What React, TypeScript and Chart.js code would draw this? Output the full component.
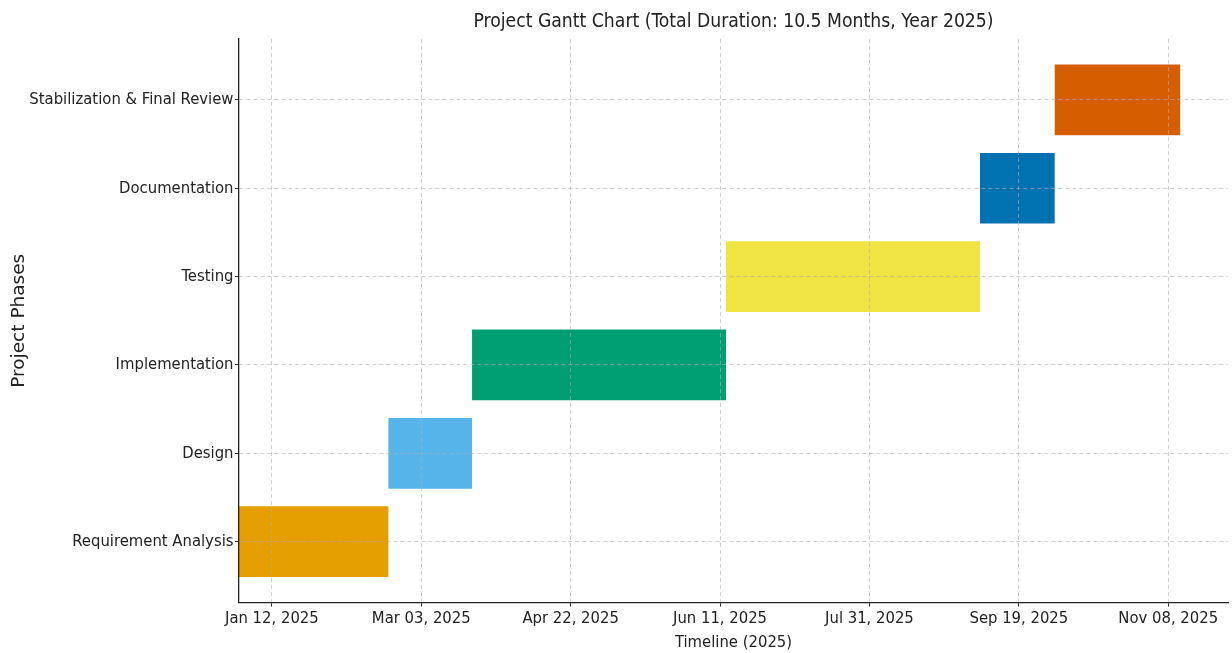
import React, { useEffect, useRef } from "react";
import { Chart, registerables } from "chart.js";

Chart.register(...registerables);

const phases = [
  "Requirement Analysis",
  "Design",
  "Implementation",
  "Testing",
  "Documentation",
  "Stabilization & Final Review",
];
const startDates = ["2025-01-01", "2025-02-20", "2025-03-20", "2025-06-13", "2025-09-06", "2025-10-01"];
const endDates = ["2025-02-20", "2025-03-20", "2025-06-13", "2025-09-06", "2025-10-01", "2025-11-12"];
const phaseColors = ["#E69F00", "#56B4E9", "#009E73", "#F0E442", "#0072B2", "#D55E00"];
const tickDates = ["2025-01-12", "2025-03-03", "2025-04-22", "2025-06-11", "2025-07-31", "2025-09-19", "2025-11-08"];
const axisStart = "2025-01-01";
const axisEnd = "2025-11-28";
const monthNames = ["Jan", "Feb", "Mar", "Apr", "May", "Jun", "Jul", "Aug", "Sep", "Oct", "Nov", "Dec"];

const DAY = 86400000;
const toDay = (s: string) => {
  const [y, m, d] = s.split("-").map(Number);
  return Date.UTC(y, m - 1, d) / DAY;
};
const fmtDay = (v: number) => {
  const dt = new Date(Math.round(v) * DAY);
  const dd = String(dt.getUTCDate()).padStart(2, "0");
  return `${monthNames[dt.getUTCMonth()]} ${dd}, ${dt.getUTCFullYear()}`;
};

const COND = "'DejaVu Sans Condensed', 'DejaVu Sans', sans-serif";
const TEXT = "#222222";
const GRID = "rgba(175,175,175,0.6)";

export default function App() {
  const ref = useRef<HTMLCanvasElement | null>(null);
  useEffect(() => {
    document.body.style.margin = "0";
    if (!ref.current) return;
    const chart = new Chart(ref.current, {
      type: "bar",
      data: {
        datasets: [
          {
            data: phases.map((_, i) => ({ x: [toDay(startDates[i]), toDay(endDates[i])], y: i })) as any,
            backgroundColor: phaseColors,
            borderWidth: 0,
            barPercentage: 0.8,
            categoryPercentage: 1,
          },
        ],
      },
      options: {
        indexAxis: "y",
        animation: false,
        responsive: false,
        maintainAspectRatio: false,
        layout: { padding: { left: 0, right: 4, top: 0, bottom: 0 } },
        plugins: {
          legend: { display: false },
          tooltip: { enabled: false },
          title: {
            display: true,
            fullSize: false,
            text: "Project Gantt Chart (Total Duration: 10.5 Months, Year 2025)",
            color: TEXT,
            font: { family: COND, size: 19.2, weight: "normal" },
            padding: { top: 10, bottom: 5.9 },
          },
        },
        scales: {
          x: {
            type: "linear",
            offset: false,
            min: toDay(axisStart),
            max: toDay(axisEnd),
            afterBuildTicks: (s: any) => {
              s.ticks = tickDates.map((d) => ({ value: toDay(d) }));
            },
            afterFit: (s: any) => {
              s.height = 50.4;
            },
            ticks: {
              color: TEXT,
              font: { family: COND, size: 16.5 },
              padding: 2,
              maxRotation: 0,
              autoSkip: false,
              callback: (v: any) => fmtDay(Number(v)),
            },
            grid: { offset: false, color: GRID, lineWidth: 1, z: 1, tickLength: 4, tickColor: "#333", tickWidth: 1, tickBorderDash: [] },
            border: { display: true, color: "#222", width: 1.3, dash: [4, 3], z: 1 },
            title: {
              display: true,
              text: "Timeline (2025)",
              color: TEXT,
              font: { family: COND, size: 16.5 },
              padding: { top: 0, bottom: 0.5 },
            },
          },
          y: {
            type: "linear",
            offset: false,
            min: -0.69,
            max: 5.69,
            afterBuildTicks: (s: any) => {
              s.ticks = phases.map((_, i) => ({ value: i }));
            },
            afterFit: (s: any) => {
              s.width = 239;
            },
            ticks: {
              color: TEXT,
              font: { family: COND, size: 16.5 },
              padding: 1.5,
              autoSkip: false,
              callback: (v: any) => phases[Number(v)] ?? "",
            },
            grid: { offset: false, color: GRID, lineWidth: 1, z: 1, tickLength: 4, tickColor: "#333", tickWidth: 1, tickBorderDash: [] },
            border: { display: true, color: "#222", width: 1.3, dash: [4, 3], z: 1 },
            title: {
              display: true,
              text: "Project Phases",
              color: TEXT,
              font: { family: "'DejaVu Sans', sans-serif", size: 18.5 },
              padding: { top: 8, bottom: 0 },
            },
          },
        },
      },
    });
    return () => chart.destroy();
  }, []);
  return (
    <div style={{ position: "fixed", left: 0, top: 0, width: 1232, height: 653, background: "#fff" }}>
      <canvas ref={ref} width={1232} height={653} style={{ width: 1232, height: 653, display: "block" }} />
    </div>
  );
}
